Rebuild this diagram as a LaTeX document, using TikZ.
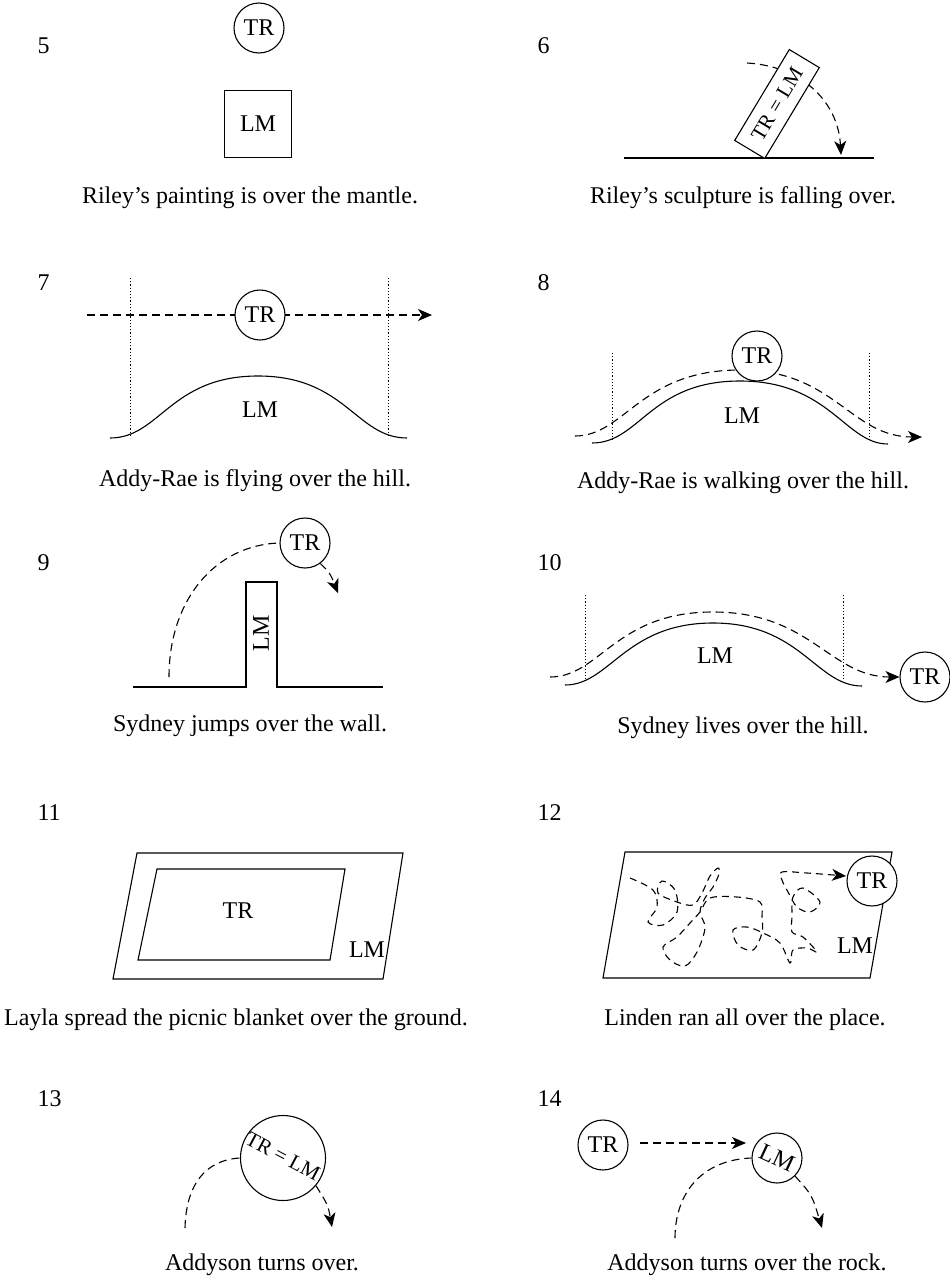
\documentclass[tikz,border=0pt]{standalone}
\usepackage{fontspec}
\setmainfont{Liberation Serif}
\usetikzlibrary{arrows.meta}
\pgfdeclarelayer{bg}
\pgfsetlayers{bg,main}
\begin{document}
\begin{tikzpicture}[x=1pt,y=-1pt,
 every node/.style={font=\fontsize{24}{28}\selectfont},
 smalltxt/.style={font=\fontsize{21}{24}\selectfont},
 ln/.style={line width=1.1pt},
 dsh/.style={line width=1.1pt, dash pattern=on 8pt off 5pt},
 dtt/.style={line width=0.9pt, dash pattern=on 1.2pt off 2pt},
 circ/.style={draw, circle, line width=1.1pt, minimum size=50pt, inner sep=0pt, fill=white},
 arrowtip/.style={-{Stealth[length=14pt,width=12pt,inset=4pt]}},
 captxt/.style={anchor=base},
 numtxt/.style={anchor=base west},
]
\useasboundingbox (0,0) rectangle (950,1280);

% ---------- 5
\node[numtxt] (n5) at (34,53) {5};
\node[circ] (p5tr) at (259,28) {TR};
\node[draw, ln, minimum size=67pt, inner sep=0pt] (p5lm) at (258,124) {LM};
\node[captxt] (c5) at (250,203) {Riley’s painting is over the mantle.};

% ---------- 6
\node[numtxt] (n6) at (534,53) {6};
\coordinate (p6g1) at (624,158); \coordinate (p6g2) at (874,158);
\draw[ln] (p6g1) -- (p6g2);
\node[draw, ln, fill=white, rotate=59, minimum width=106pt, minimum height=35pt, inner sep=0pt, smalltxt] (p6box) at (777,104) {TR = LM};
\coordinate (p6s) at (747,63); \coordinate (p6e) at (841,155);
\begin{pgfonlayer}{bg}
\draw[dsh, arrowtip] (p6s) .. controls (800,66) and (838,100) .. (p6e);
\end{pgfonlayer}
\node[captxt] (c6) at (743,203) {Riley’s sculpture is falling over.};

% ---------- 7
\node[numtxt] (n7) at (34,290) {7};
\node[circ] (p7tr) at (260,315) {TR};
\coordinate (p7a) at (87,315); \coordinate (p7b) at (432,315);
\begin{pgfonlayer}{bg}
\draw[dsh, arrowtip] (p7a) -- (p7b);
\end{pgfonlayer}
\coordinate (p7d1) at (130,278); \coordinate (p7d2) at (130,438);
\coordinate (p7d3) at (388,278); \coordinate (p7d4) at (388,438);
\draw[dtt] (p7d1) -- (p7d2);
\draw[dtt] (p7d3) -- (p7d4);
\coordinate (p7h1) at (110,438); \coordinate (p7h2) at (258,376); \coordinate (p7h3) at (407,438);
\draw[ln] (p7h1) .. controls (160,438) and (170,376) .. (p7h2) .. controls (346,376) and (356,438) .. (p7h3);
\node (p7lm) at (260,410) {LM};
\node[captxt] (c7) at (255,486) {Addy-Rae is flying over the hill.};

% ---------- 8
\node[numtxt] (n8) at (534,290) {8};
\coordinate (p8d1) at (612,353); \coordinate (p8d2) at (612,440);
\coordinate (p8d3) at (869,353); \coordinate (p8d4) at (869,440);
\draw[dtt] (p8d1) -- (p8d2);
\draw[dtt] (p8d3) -- (p8d4);
\coordinate (p8h1) at (592,443); \coordinate (p8h2) at (740,381); \coordinate (p8h3) at (888,444);
\draw[ln] (p8h1) .. controls (640,443) and (650,381) .. (p8h2) .. controls (830,381) and (845,444) .. (p8h3);
\node[circ] (p8tr) at (757,356) {TR};
\coordinate (p8a) at (575,436); \coordinate (p8m) at (740,370); \coordinate (p8b) at (922,437);
\begin{pgfonlayer}{bg}
\draw[dsh, arrowtip] (p8a) .. controls (625,436) and (640,370) .. (p8m) .. controls (835,370) and (850,437) .. (p8b);
\end{pgfonlayer}
\node (p8lm) at (742,416) {LM};
\node[captxt] (c8) at (743,488) {Addy-Rae is walking over the hill.};

% ---------- 9
\node[numtxt] (n9) at (34,570) {9};
\coordinate (p9g1) at (133,687); \coordinate (p9w1) at (246,687); \coordinate (p9w2) at (246,582);
\coordinate (p9w3) at (277,582); \coordinate (p9w4) at (277,687); \coordinate (p9g2) at (383,687);
\draw[ln] (p9g1) -- (p9w1) -- (p9w2) -- (p9w3) -- (p9w4) -- (p9g2);
\node[rotate=90] (p9lm) at (261,633) {LM};
\node[circ] (p9tr) at (305,543) {TR};
\coordinate (p9s) at (169,677); \coordinate (p9e) at (338,593);
\begin{pgfonlayer}{bg}
\draw[dsh] (p9s) .. controls (169,600) and (215,545) .. (p9tr.west);
\draw[dsh, arrowtip] (p9tr.-53) .. controls (330,573) .. (p9e);
\end{pgfonlayer}
\node[captxt] (c9) at (250,731) {Sydney jumps over the wall.};

% ---------- 10
\node[numtxt] (n10) at (534,570) {10};
\coordinate (p10d1) at (585,595); \coordinate (p10d2) at (585,680);
\coordinate (p10d3) at (843,595); \coordinate (p10d4) at (843,680);
\draw[dtt] (p10d1) -- (p10d2);
\draw[dtt] (p10d3) -- (p10d4);
\coordinate (p10h1) at (565,685); \coordinate (p10h2) at (713,623); \coordinate (p10h3) at (862,686);
\draw[ln] (p10h1) .. controls (610,685) and (625,623) .. (p10h2) .. controls (801,623) and (816,686) .. (p10h3);
\node[circ] (p10tr) at (925,677) {TR};
\coordinate (p10a) at (550,677); \coordinate (p10m) at (713,612);
\draw[dsh, arrowtip] (p10a) .. controls (600,677) and (615,612) .. (p10m) .. controls (811,612) and (830,677) .. (p10tr.west);
\node (p10lm) at (715,656) {LM};
\node[captxt] (c10) at (743,733) {Sydney lives over the hill.};

% ---------- 11
\node[numtxt] (n11) at (34,820) {11};
\coordinate (p11o1) at (137,853); \coordinate (p11o2) at (403,853);
\coordinate (p11o3) at (383,979); \coordinate (p11o4) at (113,979);
\draw[ln] (p11o1) -- (p11o2) -- (p11o3) -- (p11o4) -- cycle;
\coordinate (p11i1) at (157,869); \coordinate (p11i2) at (345,869);
\coordinate (p11i3) at (330,960); \coordinate (p11i4) at (138,960);
\draw[ln] (p11i1) -- (p11i2) -- (p11i3) -- (p11i4) -- cycle;
\node (p11tr) at (238,911) {TR};
\node (p11lm) at (367,950) {LM};
\node[captxt] (c11) at (236,1025) {Layla spread the picnic blanket over the ground.};

% ---------- 12
\node[numtxt] (n12) at (534,820) {12};
\coordinate (p12o1) at (625,852); \coordinate (p12o2) at (892,852);
\coordinate (p12o3) at (870,978); \coordinate (p12o4) at (603,978);
\draw[ln] (p12o1) -- (p12o2) -- (p12o3) -- (p12o4) -- cycle;
\node[circ] (p12tr) at (872,881) {TR};
\node (p12lm) at (855,946) {LM};
\coordinate (p12s) at (630,878); \coordinate (p12e) at (846,876);
\begin{pgfonlayer}{bg}
\draw[line width=1.1pt, dash pattern=on 7pt off 5pt, arrowtip] plot[smooth, tension=0.55] coordinates {
 (p12s) (653,890) (657,907) (648,922) (663,925) (677,912) (675,890) (662,881) (658,893)
 (677,902) (693,905) (702,893) (710,876) (718,868) (719,874) (713,887) (705,898) (700,912)
 (705,928) (697,952) (685,966) (670,960) (663,947) (677,937) (690,923) (700,912) (710,898)
 (737,897) (760,902) (762,917) (762,933) (753,950) (738,945) (733,930) (747,927) (763,933)
 (780,943) (790,963) (793,950) (807,948) (817,952) (803,937) (792,932) (792,917) (793,897)
 (803,888) (820,902) (810,912) (797,907) (788,892) (782,880) (782,872) (807,873) (p12e)};
\end{pgfonlayer}
\node[captxt] (c12) at (745,1025) {Linden ran all over the place.};

% ---------- 13
\node[numtxt] (n13) at (34,1106) {13};
\node[draw, ln, circle, minimum size=85pt, inner sep=0pt, fill=white] (p13c) at (283,1158) {};
\node[rotate=-28, smalltxt, inner sep=0pt] (p13t) at (283,1156) {TR = LM};
\coordinate (p13s) at (185,1228); \coordinate (p13e) at (332,1227);
\begin{pgfonlayer}{bg}
\draw[dsh] (p13s) .. controls (186,1185) and (205,1160) .. (p13c.west);
\draw[dsh, arrowtip] (p13c.-40) .. controls (328,1205) .. (p13e);
\end{pgfonlayer}
\node[captxt] (c13) at (262,1270) {Addyson turns over.};

% ---------- 14
\node[numtxt] (n14) at (534,1106) {14};
\node[circ] (p14tr) at (603,1145) {TR};
\node[circ] (p14lm) at (777,1158) {};
\node[rotate=-25, inner sep=0pt] (p14t) at (777,1158) {LM};
\coordinate (p14a) at (640,1143); \coordinate (p14b) at (746,1143);
\draw[dsh, arrowtip] (p14a) -- (p14b);
\coordinate (p14s) at (675,1238); \coordinate (p14e) at (822,1228);
\begin{pgfonlayer}{bg}
\draw[dsh] (p14s) .. controls (675,1195) and (700,1160) .. (p14lm.west);
\draw[dsh, arrowtip] (p14lm.-45) .. controls (812,1195) .. (p14e);
\end{pgfonlayer}
\node[captxt] (c14) at (747,1270) {Addyson turns over the rock.};
\end{tikzpicture}
\end{document}
